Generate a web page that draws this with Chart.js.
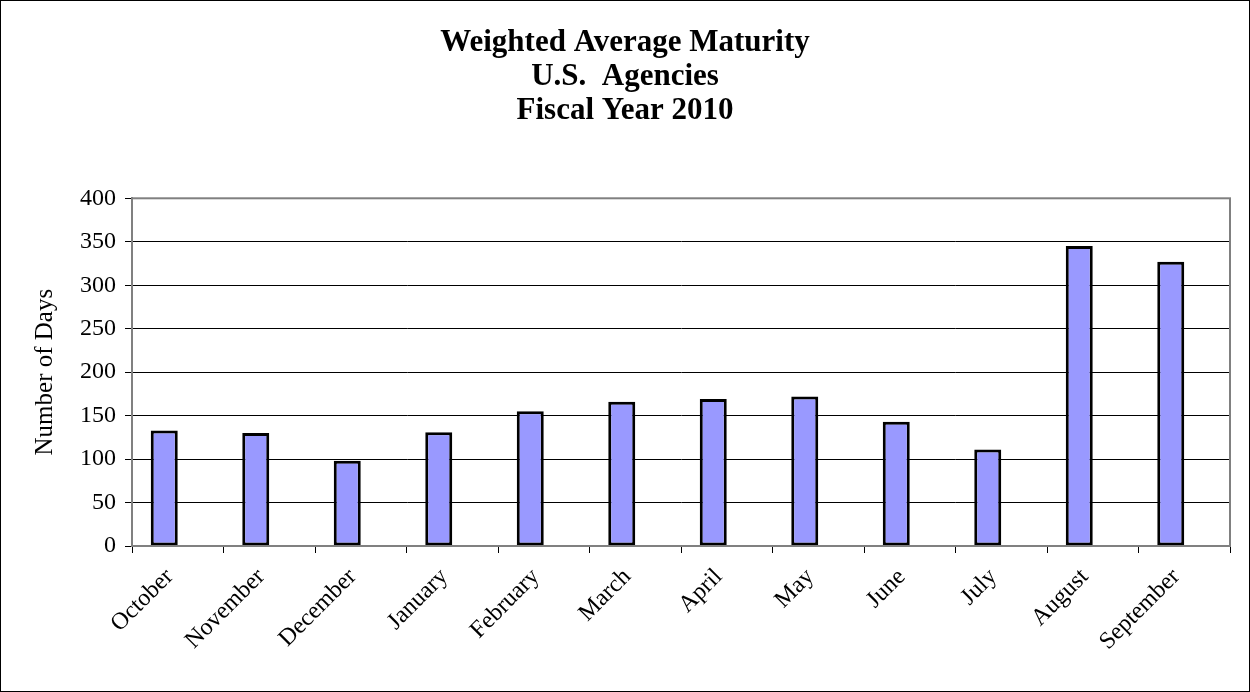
<!DOCTYPE html>
<html>
<head>
<meta charset="utf-8">
<script src="https://cdn.jsdelivr.net/npm/chart.js@4.4.1/dist/chart.umd.min.js"></script>
<style>
  html, body { margin: 0; padding: 0; background: #fff; }
  #wrap { width: 1250px; height: 692px; position: relative; }
</style>
</head>
<body>
<div id="wrap"><canvas id="myChart" width="1250" height="692"></canvas></div>
<script>
const titleLines = ["Weighted Average Maturity", "U.S.  Agencies", "Fiscal Year 2010"];
const months = ["October", "November", "December", "January", "February", "March",
                "April", "May", "June", "July", "August", "September"];
const maturityDays = [133, 130, 98, 131, 155, 166, 169, 172, 143, 111, 345, 327];
// the original sheet leaves an empty second slot next to each bar
const emptySeries = [null, null, null, null, null, null, null, null, null, null, null, null];
const yTicks = [0, 50, 100, 150, 200, 250, 300, 350, 400];

const serif = "'Liberation Serif', 'Times New Roman', serif";

// frame around the whole picture and gray box around the plot
const framePlugin = {
    id: 'frame',
    afterDraw(chart) {
        const ctx = chart.ctx;
        const a = chart.chartArea;
        ctx.save();
        ctx.strokeStyle = '#808080';
        ctx.lineWidth = 2;
        ctx.strokeRect(a.left, a.top, a.right - a.left, a.bottom - a.top);
        ctx.strokeStyle = '#000';
        ctx.lineWidth = 1;
        ctx.strokeRect(0.5, 0.5, chart.width - 1, chart.height - 1);
        ctx.restore();
    }
};

const ctx = document.getElementById('myChart').getContext('2d');
const chart = new Chart(ctx, {
    type: 'bar',
    data: {
        labels: months,
        datasets: [{
            label: 'Number of Days',
            data: maturityDays,
            backgroundColor: '#9999ff',
            borderColor: '#000',
            borderWidth: 3,
            borderSkipped: false,
            barPercentage: 1,
            categoryPercentage: 0.59
        }, {
            label: '',
            data: emptySeries,
            backgroundColor: '#9999ff',
            barPercentage: 1,
            categoryPercentage: 0.59
        }]
    },
    options: {
        responsive: false,
        animation: false,
        layout: { padding: { left: 20, right: 20, top: 0, bottom: 0 } },
        plugins: {
            legend: { display: false },
            tooltip: { enabled: false },
            title: {
                display: true,
                text: titleLines,
                color: '#000',
                font: { family: serif, size: 31, weight: 'bold', lineHeight: 1.1 },
                padding: { top: 26, bottom: 70 }
            }
        },
        scales: {
            x: {
                offset: true,
                grid: {
                    display: true,
                    drawOnChartArea: false,
                    drawTicks: true,
                    tickLength: 7,
                    color: '#000',
                    offset: true
                },
                border: { color: '#808080', width: 2 },
                ticks: {
                    color: '#000',
                    font: { family: serif, size: 24 },
                    minRotation: 45,
                    maxRotation: 45,
                    autoSkip: false,
                    padding: 10,
                    labelOffset: -8
                },
                afterFit(scale) { scale.height = 146; }
            },
            y: {
                min: 0,
                max: 400,
                afterBuildTicks(scale) {
                    scale.ticks = yTicks.map(v => ({ value: v }));
                },
                grid: {
                    color: '#000',
                    lineWidth: 1,
                    tickLength: 7,
                    drawTicks: true
                },
                border: { color: '#808080', width: 2 },
                ticks: {
                    color: '#000',
                    font: { family: serif, size: 24 },
                    padding: 9
                },
                title: {
                    display: true,
                    text: 'Number of Days',
                    color: '#000',
                    font: { family: serif, size: 25 },
                    padding: { top: 10, bottom: 0 }
                },
                afterFit(scale) { scale.width = 112; }
            }
        }
    },
    plugins: [framePlugin]
});
</script>
</body>
</html>
